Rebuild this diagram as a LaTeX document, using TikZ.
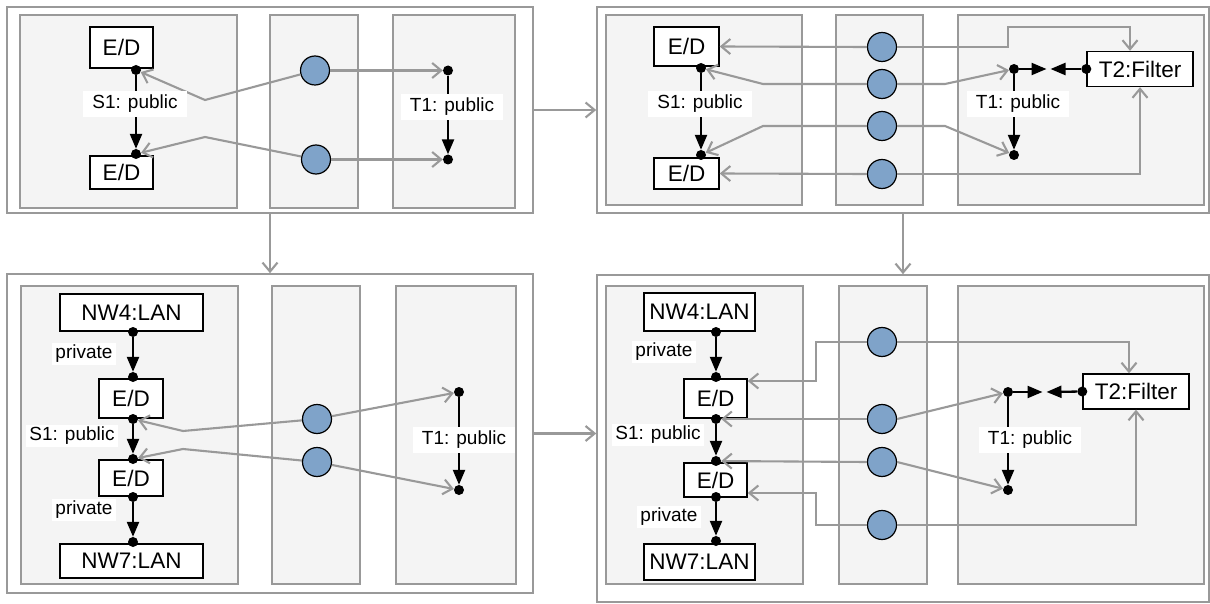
\documentclass[tikz,border=0pt]{standalone}
\usepackage{fontspec}
\setmainfont{Liberation Sans}
\usetikzlibrary{arrows.meta, positioning, calc}
\definecolor{tokblue}{RGB}{127,163,201}
\definecolor{flowgray}{RGB}{153,153,153}
\definecolor{lanefill}{RGB}{244,244,244}

\begin{document}
\begin{tikzpicture}[x=1pt, y=-1pt,
  frame/.style={draw=flowgray, line width=1.6pt, fill=white, inner sep=0pt},
  lane/.style={draw=flowgray, line width=1.5pt, fill=lanefill},
  comp/.style={draw=black, line width=1.4pt, fill=white, inner sep=0pt,
               font=\fontsize{22.5}{26}\selectfont},
  pin/.style={circle, fill=black, inner sep=0pt, minimum size=10pt},
  tok/.style={circle, draw=black, line width=1.2pt, fill=tokblue,
              minimum size=29pt, inner sep=0pt},
  lbl/.style={fill=white, inner xsep=9pt, inner ysep=4pt,
              font=\fontsize{19}{22}\selectfont},
  sidelbl/.style={lbl, inner xsep=3pt, inner ysep=2pt},
  flow/.style={draw=flowgray, line width=2.1pt,
               -{Straight Barb[length=9pt,width=15pt]}},
  link/.style={draw=black, line width=2.3pt,
               -{Triangle[length=15pt,width=12pt]}}]
  \useasboundingbox (0,0) rectangle (1210,604);

  % panel 1: top left
  \node[frame, minimum width=526pt, minimum height=206pt] (p1) at (270,110) {};
  \draw[lane] (20,15) rectangle (237,208);
  \draw[lane] (270,15) rectangle (358,208);
  \draw[lane] (393,15) rectangle (515,208);
  \node[comp, minimum width=63pt, minimum height=41pt] (ed1a) at (121.5,47.5) {E/D};
  \node[comp, minimum width=63pt, minimum height=33pt] (ed1b) at (121.5,172.5) {E/D};
  \node[pin] (s1a) at (136,70) {};
  \node[pin] (s1b) at (136,154) {};
  \node[tok] (c1a) at (315,70.5) {};
  \node[tok] (c1b) at (316,159.5) {};
  \node[pin] (t1a) at (448,70.5) {};
  \node[pin] (t1b) at (448,159.5) {};
  \draw[link] (s1a) -- (s1b);
  \draw[link] (t1a) -- (t1b);
  \draw[flow] (c1a) -- (205,100) -- (s1a);
  \draw[flow] (c1b) -- (205,137) -- (s1b);
  \draw[flow] (c1a) -- (t1a);
  \draw[flow] (c1b) -- (t1b);
  \node[lbl] (l1s) at (135,104) {S1: public};
  \node[lbl] (l1t) at (452,107) {T1: public};

  % panel 2: top right
  \node[frame, minimum width=612pt, minimum height=206pt] (p2) at (903,110) {};
  \draw[lane] (606,15) rectangle (802,205);
  \draw[lane] (836,15) rectangle (923,205);
  \draw[lane] (958,15) rectangle (1204,205);
  \node[comp, minimum width=65pt, minimum height=39pt] (ed2a) at (686.5,46.5) {E/D};
  \node[comp, minimum width=65pt, minimum height=31pt] (ed2b) at (686.5,173.5) {E/D};
  \node[comp, minimum width=106pt, minimum height=35pt] (flt2) at (1140,69) {T2:Filter};
  \node[pin] (s2a) at (701,68) {};
  \node[pin] (s2b) at (701,155) {};
  \node[pin] (t2a) at (1014,69) {};
  \node[pin] (t2b) at (1014,155) {};
  \node[pin] (f2) at (flt2.west) {};
  \coordinate (m2) at (1048.5,69);
  \foreach \y/\n in {47/a,84/b,126/c,174/d}
    \node[tok] (c2\n) at (882,\y) {};
  \draw[link] (s2a) -- (s2b);
  \draw[link] (t2a) -- (t2b);
  \draw[link] (t2a) -- ([xshift=-2pt]m2);
  \draw[link] (f2) -- ([xshift=2pt]m2);
  \draw[flow] (c2a.west) -- (ed2a.east);
  \draw[flow] (c2b.west) -- (763,84) -- (s2a);
  \draw[flow] (c2c.west) -- (763,126) -- (s2b);
  \draw[flow] (c2d.west) -- (ed2b.east);
  \draw[flow] (c2a.east) -| (1008,27) -| ([xshift=-10pt]flt2.north);
  \draw[flow] (c2b.east) -- (945,84) -- (t2a);
  \draw[flow] (c2c.east) -- (945,126) -- (t2b);
  \draw[flow] (c2d.east) -| (flt2.south);
  \node[lbl] (l2s) at (700,104) {S1: public};
  \node[lbl] (l2t) at (1018,104) {T1: public};

  % panel 3: bottom left
  \node[frame, minimum width=526pt, minimum height=319pt] (p3) at (270,433.5) {};
  \draw[lane] (21,286) rectangle (238,584);
  \draw[lane] (272,286) rectangle (360,584);
  \draw[lane] (396,286) rectangle (516,584);
  \node[comp, minimum width=143pt, minimum height=37pt] (nw3a) at (131.5,312.5) {NW4:LAN};
  \node[comp, minimum width=64pt, minimum height=39pt] (ed3a) at (131,398.5) {E/D};
  \node[comp, minimum width=64pt, minimum height=36pt] (ed3b) at (131,478) {E/D};
  \node[comp, minimum width=143pt, minimum height=34pt] (nw3b) at (131.5,561) {NW7:LAN};
  \foreach \y/\n in {332/n3a,377/e3a,419/e3b,459/e3c,497/e3d,542/n3b}
    \node[pin] (\n) at (133,\y) {};
  \node[tok] (c3a) at (317,419) {};
  \node[tok] (c3b) at (317,462) {};
  \node[pin] (t3a) at (459,392) {};
  \node[pin] (t3b) at (459,490) {};
  \draw[link] (n3a) -- (e3a);
  \draw[link] (e3b) -- (e3c);
  \draw[link] (e3d) -- (n3b);
  \draw[link] (t3a) -- (t3b);
  \draw[flow] (c3a) -- (183,431) -- (e3b);
  \draw[flow] (c3b) -- (183,449) -- (e3c);
  \draw[flow] (c3a) -- (t3a);
  \draw[flow] (c3b) -- (t3b);
  \node[sidelbl] (l3p) at (84,354) {private};
  \node[sidelbl] (l3s) at (72,436) {S1: public};
  \node[sidelbl] (l3q) at (84,510) {private};
  \node[lbl] (l3t) at (464,440) {T1: public};

  % panel 4: bottom right
  \node[frame, minimum width=612pt, minimum height=327pt] (p4) at (903,438.5) {};
  \draw[lane] (606,286) rectangle (803,584);
  \draw[lane] (839,286) rectangle (927,584);
  \draw[lane] (958,286) rectangle (1204,584);
  \node[comp, minimum width=111pt, minimum height=38pt] (nw4a) at (699.5,312) {NW4:LAN};
  \node[comp, minimum width=63pt, minimum height=39pt] (ed4a) at (715.5,398.5) {E/D};
  \node[comp, minimum width=63pt, minimum height=34pt] (ed4b) at (715.5,480) {E/D};
  \node[comp, minimum width=111pt, minimum height=36pt] (nw4b) at (699.5,562) {NW7:LAN};
  \node[comp, minimum width=106pt, minimum height=35pt] (flt4) at (1136,391.5) {T2:Filter};
  \foreach \y/\n in {332/n4a,377/e4a,419/e4b,461/e4c,497/e4d,541/n4b}
    \node[pin] (\n) at (716,\y) {};
  \node[pin] (t4a) at (1008,392) {};
  \node[pin] (t4b) at (1008,490) {};
  \node[pin] (f4) at (flt4.west) {};
  \coordinate (m4) at (1044.5,392);
  \foreach \y/\n in {342/a,419/b,462/c,525/d}
    \node[tok] (c4\n) at (882,\y) {};
  \draw[link] (n4a) -- (e4a);
  \draw[link] (e4b) -- (e4c);
  \draw[link] (e4d) -- (n4b);
  \draw[link] (t4a) -- (t4b);
  \draw[link] (t4a) -- ([xshift=-2pt]m4);
  \draw[link] (f4) -- ([xshift=2pt]m4);
  \draw[flow] (c4a.west) -| (816,381) -- ([yshift=17.5pt]ed4a.east);
  \draw[flow] (c4b.west) -- (e4b);
  \draw[flow] (c4c.west) -- (e4c);
  \draw[flow] (c4d.west) -| (816,493) -- ([yshift=-13pt]ed4b.east);
  \draw[flow] (c4a.east) -| ([xshift=-7pt]flt4.north);
  \draw[flow] (c4b.east) -- (t4a);
  \draw[flow] (c4c.east) -- (t4b);
  \draw[flow] (c4d.east) -| (flt4.south);
  \node[sidelbl] (l4p) at (664,352) {private};
  \node[sidelbl] (l4s) at (658,435) {S1: public};
  \node[sidelbl] (l4q) at (669,517) {private};
  \node[lbl] (l4t) at (1030,440) {T1: public};

  % steps between panels
  \draw[flow] (p1.east) -- (p2.west);
  \draw[flow] (p1.south) -- (p3.north);
  \draw[flow] (p2.south) -- (p4.north);
  \draw[flow] (p3.east) -- (p3.east -| p4.west);
\end{tikzpicture}
\end{document}
